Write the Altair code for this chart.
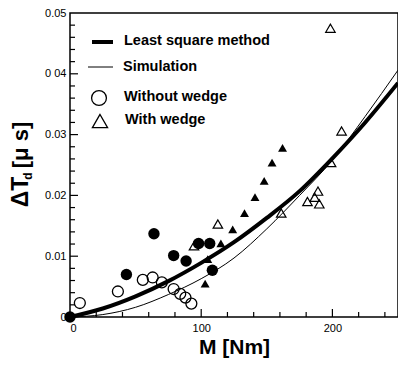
import altair as alt
import pandas as pd

# ---- data ----
M_curve = [0, 25, 50, 75, 100, 125, 150, 175, 200, 225, 250]
lsq_curve = [0, 0.0014, 0.0034, 0.0059, 0.0089, 0.0123, 0.0163, 0.0207, 0.0261, 0.0320, 0.0385]
sim_curve = [0, 0.0004, 0.0016, 0.0037, 0.0063, 0.0097, 0.0145, 0.0200, 0.0258, 0.0330, 0.0406]

open_circ_M = [7.5, 36.5, 55.5, 63, 70, 79, 84, 88, 92.5]
open_circ_T = [0.0023, 0.0042, 0.0061, 0.0065, 0.0057, 0.0046, 0.0038, 0.0032, 0.0022]
fill_circ_M = [0, 43, 64, 79, 88.5, 98, 106.5, 108.5]
fill_circ_T = [0, 0.0070, 0.0137, 0.0101, 0.0092, 0.0121, 0.0121, 0.0077]
fill_tri_M = [103, 105, 115, 124, 133, 141, 148, 154, 162]
fill_tri_T = [0.0055, 0.0095, 0.0121, 0.0144, 0.0171, 0.0197, 0.0224, 0.0254, 0.0278]
open_tri_M = [94.5, 112.7, 161, 181, 186.5, 189, 190, 199, 207, 198.5]
open_tri_T = [0.0117, 0.0153, 0.0171, 0.0190, 0.0197, 0.0207, 0.0186, 0.0254, 0.0306, 0.0475]

x_label_values = [0, 100, 200]
x_tick_values = [20, 40, 60, 80, 100, 120, 140, 160, 180, 200, 220, 240]
x_major_ticks = [100, 200]
y_label_values = [0, 0.01, 0.02, 0.03, 0.04, 0.05]
y_label_texts = ["0", "0.01", "0.02", "0.03", "0 04", "0.05"]
y_tick_values = [round(0.002 * i, 3) for i in range(1, 25)]

legend_labels = ["Least square method", "Simulation", "Without wedge", "With wedge"]

FONT = "Liberation Sans"
W, H = 328, 304

xs = alt.Scale(domain=[0, 250], nice=False, zero=False)
ys = alt.Scale(domain=[0, 0.05], nice=False, zero=False)

curves = pd.DataFrame({"M": M_curve, "lsq": lsq_curve, "sim": sim_curve})

label_expr = " : ".join(
    [f"abs(datum.value - {v}) < 1e-9 ? '{t}'" for v, t in zip(y_label_values, y_label_texts)]
) + " : ''"

base_x = alt.X("M:Q", scale=xs,
               axis=alt.Axis(values=x_label_values, ticks=False, domain=False, grid=False,
                             labelFont=FONT, labelFontSize=11, labelPadding=5,
                             labelColor="black", format="d",
                             title="M [Nm]", titleFont=FONT, titleFontSize=21,
                             titleFontWeight="bold", titlePadding=3, titleColor="black"))
base_y = alt.Y("T:Q", scale=ys,
               axis=alt.Axis(values=y_label_values, ticks=False, domain=False, grid=False,
                             labelFont=FONT, labelFontSize=11, labelPadding=4,
                             labelColor="black", labelExpr=label_expr, title=None))

def pts(M, T):
    return pd.DataFrame({"M": M, "T": T})

open_circles = alt.Chart(pts(open_circ_M, open_circ_T)).mark_point(
    shape="circle", size=120, filled=False, stroke="black", strokeWidth=1.3, opacity=1
).encode(x=base_x, y=base_y)
fill_circles = alt.Chart(pts(fill_circ_M, fill_circ_T)).mark_point(
    shape="circle", size=130, filled=True, fill="black", opacity=1
).encode(x="M:Q", y="T:Q")
fill_tris = alt.Chart(pts(fill_tri_M, fill_tri_T)).mark_point(
    shape="triangle-up", size=80, filled=True, fill="black", opacity=1
).encode(x="M:Q", y="T:Q")
open_tris = alt.Chart(pts(open_tri_M, open_tri_T)).mark_point(
    shape="triangle-up", size=90, filled=False, stroke="black", strokeWidth=1.2, opacity=1
).encode(x="M:Q", y="T:Q")

lsq_line = alt.Chart(curves).mark_line(color="black", strokeWidth=4, interpolate="monotone").encode(
    x="M:Q", y=alt.Y("lsq:Q"))
sim_line = alt.Chart(curves).mark_line(color="black", strokeWidth=1, interpolate="monotone").encode(
    x="M:Q", y=alt.Y("sim:Q"))

# axis ticks (inward)
xt = pd.DataFrame({"M": x_tick_values, "len": [8 if v in x_major_ticks else 5 for v in x_tick_values]})
yt = pd.DataFrame({"T": y_tick_values,
                   "len": [8 if abs(v * 100 - round(v * 100)) < 1e-9 else 5 for v in y_tick_values]})
x_ticks_major = alt.Chart(xt[xt["len"] == 8]).mark_rule(color="black", strokeWidth=1.2).encode(
    x="M:Q", y=alt.value(H), y2=alt.value(H - 8))
x_ticks_minor = alt.Chart(xt[xt["len"] == 5]).mark_rule(color="black", strokeWidth=1.2).encode(
    x="M:Q", y=alt.value(H), y2=alt.value(H - 5))
y_ticks_major = alt.Chart(yt[yt["len"] == 8]).mark_rule(color="black", strokeWidth=1.2).encode(
    y="T:Q", x=alt.value(0), x2=alt.value(8))
y_ticks_minor = alt.Chart(yt[yt["len"] == 5]).mark_rule(color="black", strokeWidth=1.2).encode(
    y="T:Q", x=alt.value(0), x2=alt.value(5))

# y title: ΔT_d [μ s]
yt1 = alt.Chart().mark_text(text="ΔT", angle=270, font=FONT, fontSize=23, fontWeight="bold",
                            align="center", baseline="middle", color="black").encode(
    x=alt.value(-49), y=alt.value(179))
yt2 = alt.Chart().mark_text(text="d", angle=270, font=FONT, fontSize=12, fontWeight="bold",
                            align="center", baseline="middle", color="black").encode(
    x=alt.value(-42), y=alt.value(163))
yt3 = alt.Chart().mark_text(text="[μ s]", angle=270, font=FONT, fontSize=22, fontWeight="bold",
                            align="center", baseline="middle", color="black").encode(
    x=alt.value(-49), y=alt.value(132))

# legend
leg_thick = alt.Chart().mark_rule(color="black", strokeWidth=4).encode(
    x=alt.value(22), x2=alt.value(43), y=alt.value(29))
leg_thin = alt.Chart().mark_rule(color="black", strokeWidth=1).encode(
    x=alt.value(18), x2=alt.value(43), y=alt.value(54))
leg_circ = alt.Chart().mark_point(shape="circle", size=220, filled=False, stroke="black",
                                  strokeWidth=1.3, opacity=1).encode(x=alt.value(29), y=alt.value(85))
leg_tri = alt.Chart().mark_point(shape="triangle-up", size=230, filled=False, stroke="black",
                                 strokeWidth=1.3, opacity=1).encode(x=alt.value(30), y=alt.value(108))
leg_texts = []
for lab, lx, ly in zip(legend_labels, [54, 53, 54, 55], [28, 54, 84, 107]):
    leg_texts.append(alt.Chart().mark_text(text=lab, font=FONT, fontSize=14.5, fontWeight="bold",
                                           align="left", baseline="middle", color="black").encode(
        x=alt.value(lx), y=alt.value(ly)))

chart = alt.layer(
    open_circles, fill_circles, fill_tris, open_tris, lsq_line, sim_line,
    x_ticks_major, x_ticks_minor, y_ticks_major, y_ticks_minor,
    yt1, yt2, yt3, leg_thick, leg_thin, leg_circ, leg_tri, *leg_texts
).properties(
    width=W, height=H,
    autosize=alt.AutoSizeParams(type="none"),
    padding={"left": 62, "top": 5, "right": 0, "bottom": 43},
    background="white",
).configure_view(stroke="black", strokeWidth=1.5)

chart.save("out.html", embed_options={"renderer": "svg", "actions": False})
